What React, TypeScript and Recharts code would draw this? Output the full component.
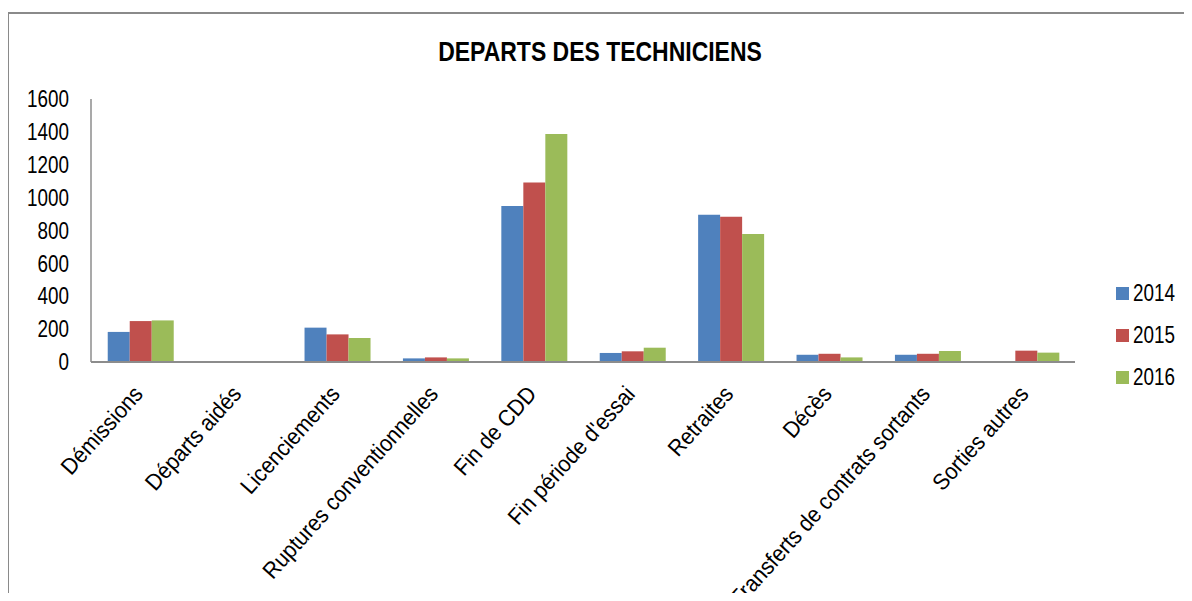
import React from "react";
import { BarChart, Bar, XAxis, YAxis, Legend } from "recharts";

const FONT = "'Liberation Sans', Arial, sans-serif";
// the reference text is a condensed face, so text is squeezed horizontally
const SQUEEZE = 0.82;
const LABEL_SQUEEZE = 0.92;

const categories = [
  "Démissions",
  "Départs aidés",
  "Licenciements",
  "Ruptures conventionnelles",
  "Fin de CDD",
  "Fin période d'essai",
  "Retraites",
  "Décès",
  "Transferts de contrats sortants",
  "Sorties autres",
];

const values2014 = [183, 0, 209, 22, 949, 55, 896, 44, 44, 0];
const values2015 = [249, 0, 168, 28, 1092, 65, 884, 50, 50, 69];
const values2016 = [253, 0, 146, 22, 1387, 87, 779, 28, 67, 57];

const yTicks = [0, 200, 400, 600, 800, 1000, 1200, 1400, 1600];

const data = categories.map((name, i) => ({
  name,
  y2014: values2014[i],
  y2015: values2015[i],
  y2016: values2016[i],
}));

function AngledTick(props: any) {
  const { x, y, payload } = props;
  const tx = x + 4;
  const ty = y + 25;
  return (
    <text
      x={0}
      y={0}
      textAnchor="end"
      fontSize={23}
      fontFamily={FONT}
      fill="#000"
      transform={`translate(${tx}, ${ty}) rotate(-48) scale(${LABEL_SQUEEZE}, 1)`}
    >
      {payload.value}
    </text>
  );
}

function ValueTick(props: any) {
  const { x, y, payload } = props;
  return (
    <text
      x={0}
      y={0}
      dy="0.355em"
      textAnchor="end"
      fontSize={23}
      fontFamily={FONT}
      fill="#000"
      transform={`translate(${x}, ${y}) scale(${SQUEEZE}, 1)`}
    >
      {payload.value}
    </text>
  );
}

function LegendBox({ payload }: any) {
  return (
    <div style={{ fontFamily: FONT }}>
      {(payload || []).map((p: any) => (
        <div
          key={p.value}
          style={{ display: "flex", alignItems: "center", height: 42 }}
        >
          <span
            style={{
              display: "inline-block",
              width: 13,
              height: 13,
              background: p.color,
              marginRight: 4,
            }}
          />
          <span
            style={{
              display: "inline-block",
              fontSize: 23,
              color: "#000",
              transform: `scaleX(${SQUEEZE})`,
              transformOrigin: "left center",
            }}
          >
            {p.value}
          </span>
        </div>
      ))}
    </div>
  );
}

export default function App() {
  return (
    <div style={{ position: "relative", width: 1176, height: 585 }}>
      <div
        style={{
          position: "absolute",
          left: -1,
          top: 4,
          width: 1200,
          height: 600,
          borderLeft: "2px solid #8a8a8a",
          borderTop: "2px solid #8a8a8a",
        }}
      />
      <div
        style={{
          position: "absolute",
          left: 0,
          top: 30,
          width: 1184,
          textAlign: "center",
          fontFamily: FONT,
          fontWeight: "bold",
          fontSize: 28,
          lineHeight: "28px",
          color: "#000",
          transform: `scaleX(${SQUEEZE})`,
        }}
      >
        DEPARTS DES TECHNICIENS
      </div>
      <div style={{ position: "absolute", left: 0, top: 0 }}>
        <BarChart
          width={1176}
          height={585}
          data={data}
          margin={{ top: 91, right: 109, bottom: 0, left: 0 }}
          barCategoryGap="17%"
          barGap={0}
        >
          <XAxis
            dataKey="name"
            interval={0}
            height={231}
            tickLine={false}
            axisLine={{ stroke: "#8c8c8c", strokeWidth: 2 }}
            tick={<AngledTick />}
          />
          <YAxis
            width={83}
            domain={[0, 1600]}
            ticks={yTicks}
            tickLine={false}
            axisLine={{ stroke: "#8c8c8c", strokeWidth: 1.5 }}
            tickMargin={16}
            tick={<ValueTick />}
          />
          <Legend
            layout="vertical"
            align="center"
            verticalAlign="middle"
            content={<LegendBox />}
            wrapperStyle={{ left: 1108, top: 264, width: 80 }}
          />
          <Bar dataKey="y2014" name="2014" fill="#4F81BD" isAnimationActive={false} />
          <Bar dataKey="y2015" name="2015" fill="#C0504D" isAnimationActive={false} />
          <Bar dataKey="y2016" name="2016" fill="#9BBB59" isAnimationActive={false} />
        </BarChart>
      </div>
    </div>
  );
}
